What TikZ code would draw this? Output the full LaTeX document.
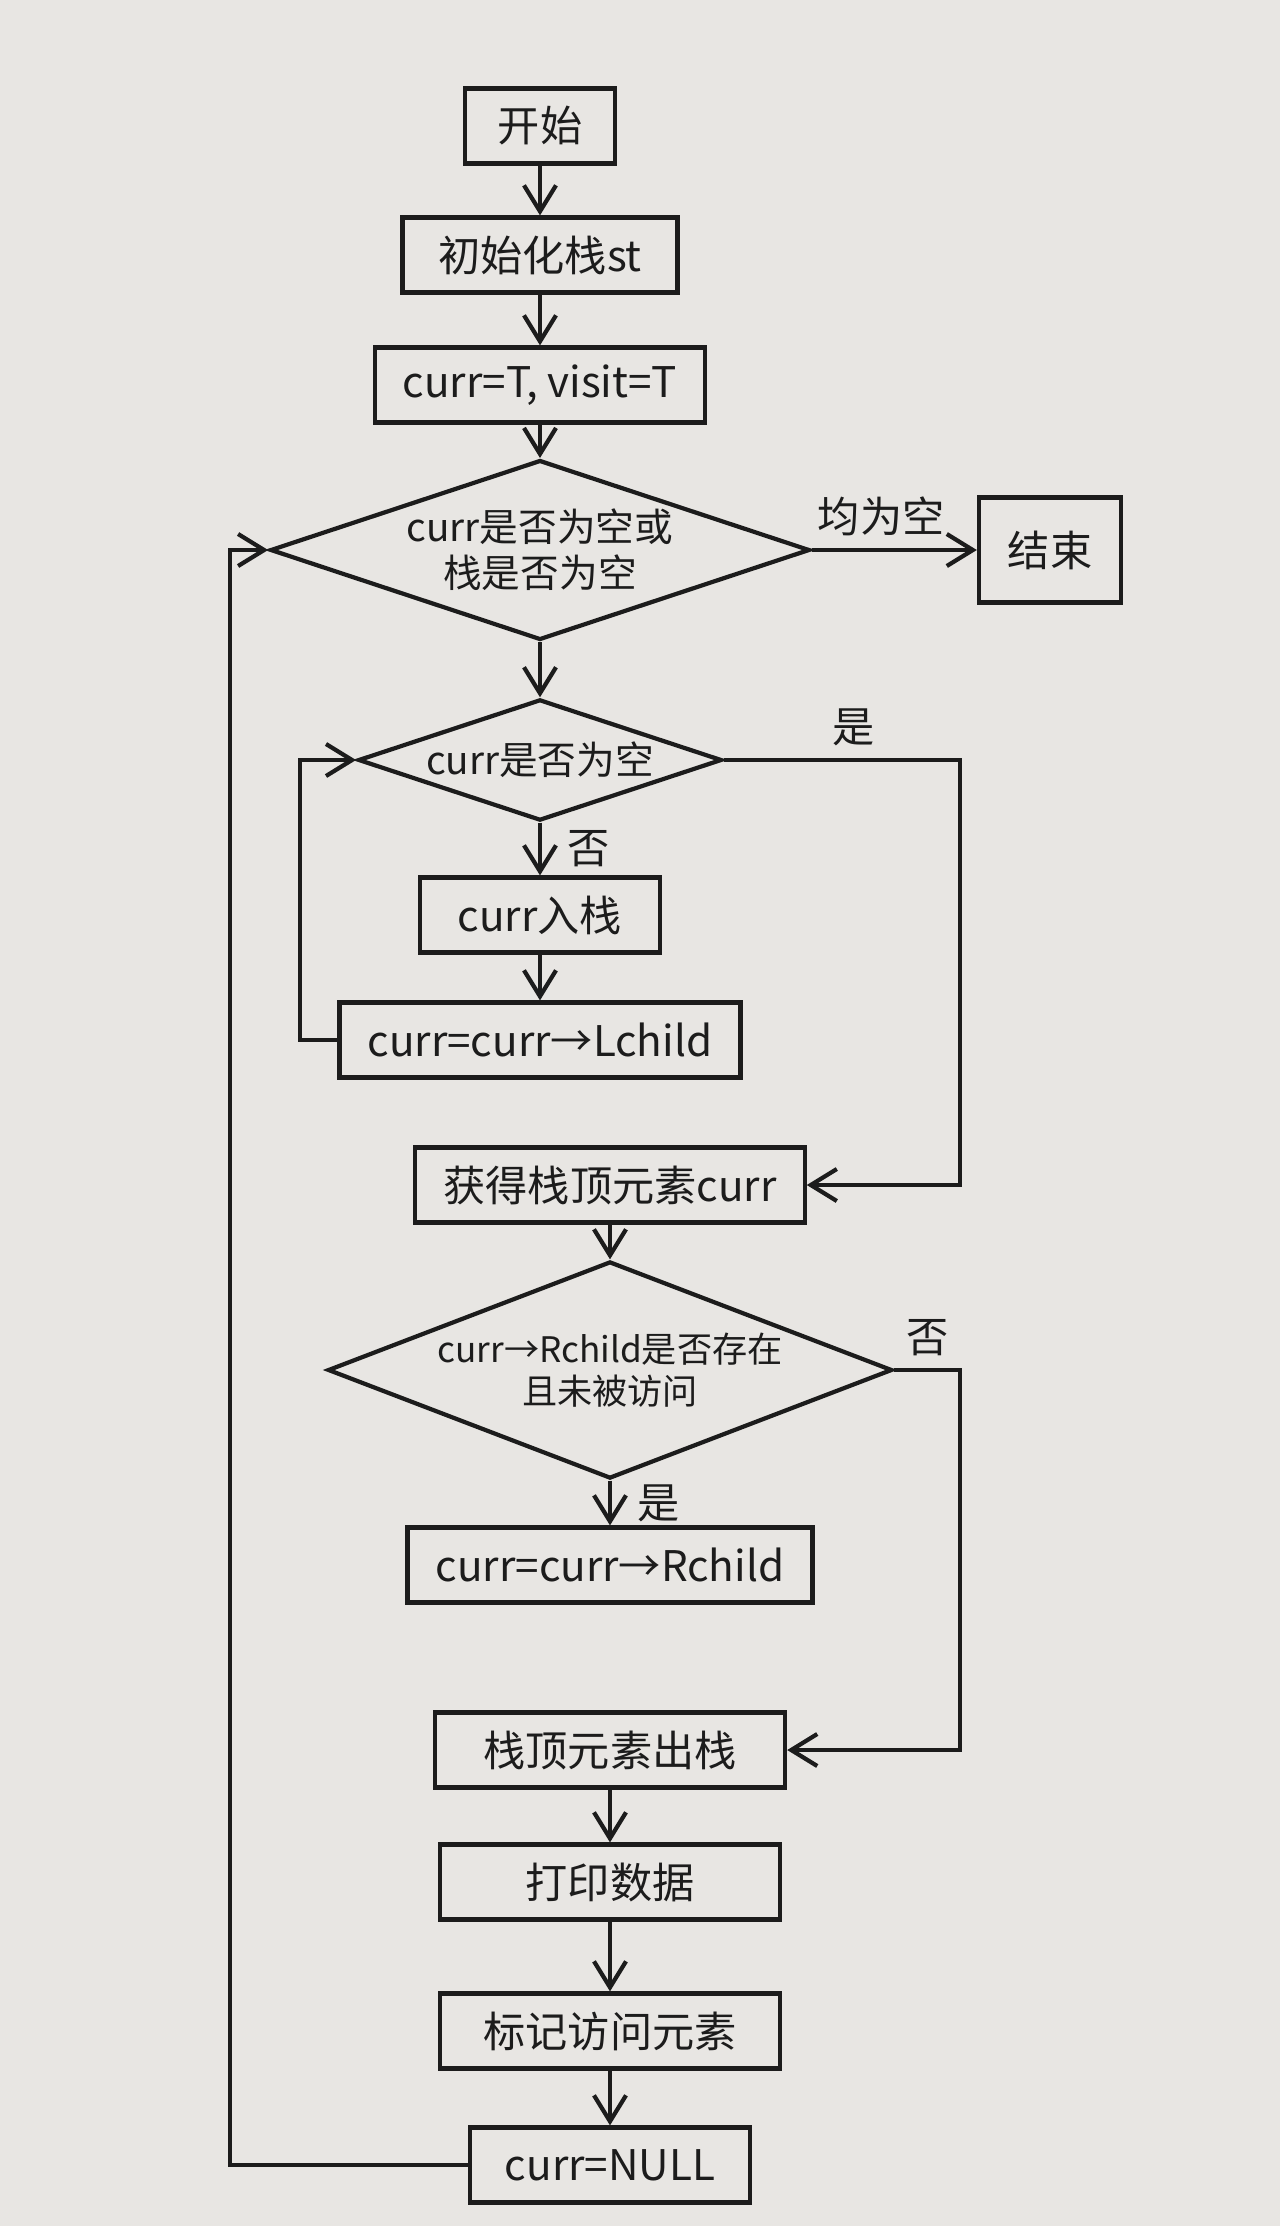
\documentclass[tikz,border=0pt]{standalone}
\usepackage{fontspec}
\setmainfont{Noto Sans CJK SC}
\usetikzlibrary{positioning,arrows.meta,shapes.geometric,calc}
\definecolor{paper}{HTML}{E8E6E3}
\definecolor{ink}{HTML}{1C1C1C}

\begin{document}
\begin{tikzpicture}[
  x=0.01cm, y=-0.01cm,
  every node/.style={font=\fontsize{12}{14}\selectfont, text=ink},
  box/.style={rectangle, draw=ink, minimum height=0.75cm, inner xsep=8pt, align=center, line width=1.2pt},
  dec/.style={diamond, draw=ink, aspect=3, inner sep=1pt, align=center, line width=1.2pt, font=\fontsize{11}{13}\selectfont},
  arr/.style={-{Straight Barb[length=2.6mm,width=3.2mm]}, draw=ink, line width=1.2pt},
  lbl/.style={font=\fontsize{12}{14}\selectfont}
]

%% paper -- fixes the page size
\fill[paper] (0,0) rectangle (1280,2226);

%% upper column: set-up and the left-descent loop
\node[box, minimum width=1.5cm] (start) at (540,126) {开始};
\node[box, minimum width=2.75cm] (init) at (540,255) {初始化栈st};
\node[box, minimum width=2.95cm] (setT) at (540,385) {curr=T, visit=T};
\node[dec] (outer) at (540,550) {curr是否为空或\\栈是否为空};
\node[box, minimum width=1.42cm, minimum height=1.05cm] (stop) at (1050,550) {结束};
\node[dec] (isnull) at (540,760) {curr是否为空};
\node[box, minimum width=2.4cm] (push) at (540,915) {curr入栈};
\node[box, minimum width=3cm] (goleft) at (540,1040) {curr=curr→Lchild};

%% lower column: visit the top of the stack
\node[box, minimum width=3.7cm] (gettop) at (610,1185) {获得栈顶元素curr};
\node[dec, aspect=2.6, font=\fontsize{10}{12}\selectfont] (hasright) at (610,1370) {curr→Rchild是否存在\\且未被访问};
\node[box, minimum width=3.3cm] (goright) at (610,1565) {curr=curr→Rchild};
\node[box, minimum width=3.5cm] (pop) at (610,1750) {栈顶元素出栈};
\node[box, minimum width=3.4cm] (print) at (610,1882) {打印数据};
\node[box, minimum width=3.4cm] (mark) at (610,2031) {标记访问元素};
\node[box, minimum width=2.8cm] (clear) at (610,2165) {curr=NULL};

%% rails for the loops
\coordinate (rrail) at (960,0);
\coordinate (lrail) at (300,0);
\coordinate (orail) at (230,0);

\foreach \a/\b in {start/init, init/setT, setT/outer, outer/isnull, push/goleft,
                   gettop/hasright, pop/print, print/mark, mark/clear} {
  \draw[arr] (\a) -- (\b);
}
\draw[arr] (outer) -- node[lbl, above, pos=0.42] {均为空} (stop);
\draw[arr] (isnull) -- node[lbl, right, xshift=4pt] {否} (push);
\draw[arr] (hasright) -- node[lbl, right, xshift=4pt] {是} (goright);
\draw[arr] (goleft.west) -- (goleft.west -| lrail) |- (isnull.west);
\draw[arr] (isnull.east) -- node[lbl, above, pos=0.55] {是} (isnull.east -| rrail) |- (gettop.east);
\draw[arr] (hasright.east) -- node[lbl, above] {否} (hasright.east -| rrail) |- (pop.east);
\draw[arr] (clear.west) -- (clear.west -| orail) |- (outer.west);
\end{tikzpicture}
\end{document}
